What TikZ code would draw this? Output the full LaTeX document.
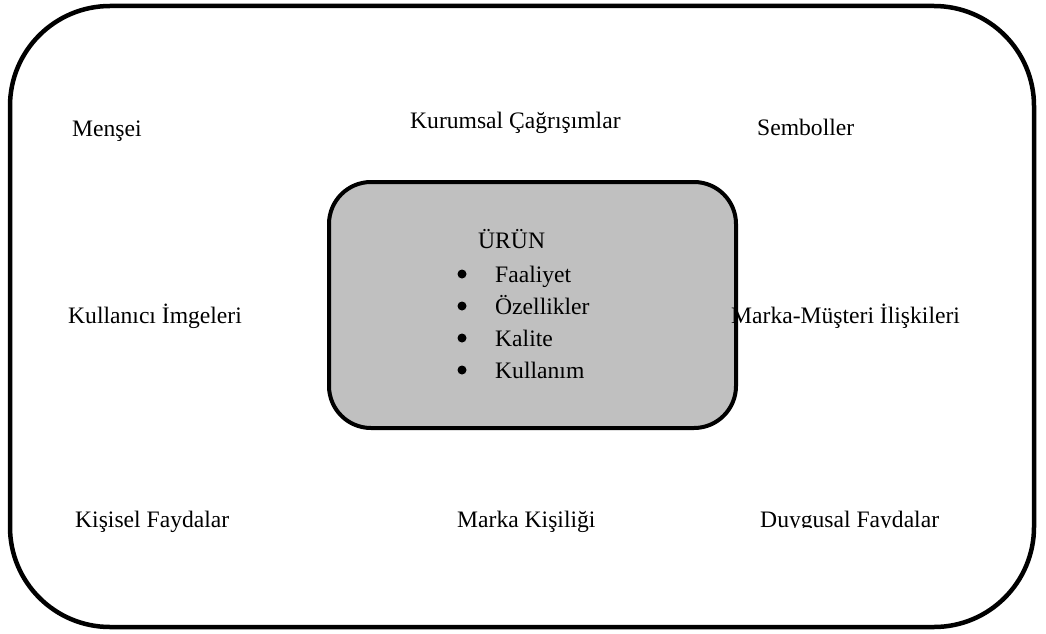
\documentclass[tikz,border=0pt]{standalone}
\usepackage{fontspec}
\setmainfont{Liberation Serif}
\newfontfamily\labelfont{Liberation Serif}
\begin{document}
\begin{tikzpicture}[x=1pt,y=-1pt,
  lbl/.style={anchor=base west,inner sep=0pt,font=\labelfont\fontsize{23.6}{28}\selectfont},
  frame/.style={line width=4.5pt,rounded corners=100pt},
  core/.style={line width=4pt,rounded corners=42pt,fill=corefill},
  dot/.style={fill=black,draw=none}]
\definecolor{corefill}{HTML}{C0C0C0}
\useasboundingbox (0,0) rectangle (1046,634);
% outer frame
\draw[frame] (10,6) rectangle (1034,627);
% central product box
\draw[core] (329,182) rectangle (736,428);
% surrounding associations
\node[lbl] (mensei) at (72,136) {Menşei};
\node[lbl] (kurumsal) at (410,128) {Kurumsal Çağrışımlar};
\node[lbl] (semboller) at (757,135) {Semboller};
\node[lbl] (kullanici) at (68,323) {Kullanıcı İmgeleri};
\node[lbl] (iliski) at (731,323) {Marka-Müşteri İlişkileri};
\node[lbl] (kisisel) at (75,527) {Kişisel Faydalar};
\node[lbl] (kisilik) at (457,527) {Marka Kişiliği};
\begin{scope}
  \clip (740,480) rectangle (1000,527.5);
  \node[lbl] (duygusal) at (760,527) {Duygusal Faydalar};
\end{scope}
% product attributes
\node[lbl] (urun) at (478,248) {ÜRÜN};
\node[lbl] (faaliyet) at (495,282) {Faaliyet};
\node[lbl] (ozellik) at (495,314) {Özellikler};
\node[lbl] (kalite) at (495,346) {Kalite};
\node[lbl] (kullanim) at (495,378) {Kullanım};
\foreach \b in {282,314,346,378}
  \fill[dot] (462,\b-8) circle (4.5);
\end{tikzpicture}
\end{document}
